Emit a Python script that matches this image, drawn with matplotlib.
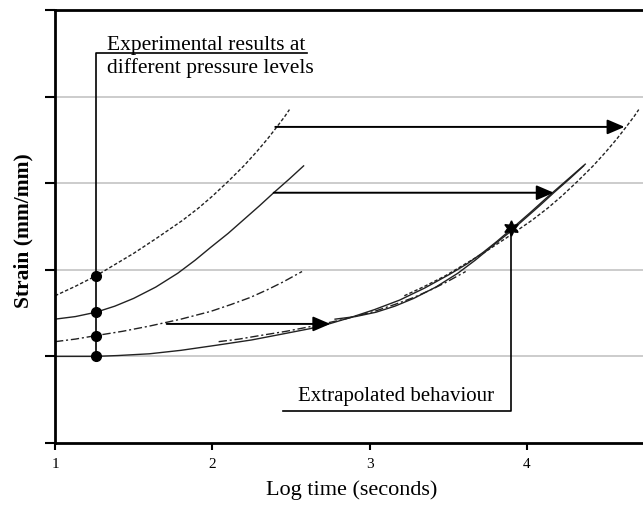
import matplotlib
matplotlib.use("Agg")
import matplotlib.pyplot as plt

plt.rcParams['font.family'] = ['Liberation Serif', 'DejaVu Serif']

# base creep curve (lowest pressure) -- becomes the master curve
base_x = [1.00, 1.13, 1.26, 1.40, 1.60, 1.80, 2.03, 2.25, 2.45, 2.62, 2.75, 2.88,
          3.03, 3.19, 3.35, 3.51, 3.62, 3.72, 3.81, 3.90, 4.02, 4.13, 4.25, 4.37]
base_y = [1.00, 1.00, 1.00, 1.01, 1.03, 1.07, 1.13, 1.19, 1.26, 1.32, 1.38, 1.45,
          1.54, 1.65, 1.79, 1.95, 2.07, 2.20, 2.33, 2.47, 2.66, 2.84, 3.03, 3.22]

# experimental curves at higher pressure levels
low_x = [1.00, 1.13, 1.26, 1.43, 1.60, 1.80, 1.99, 2.12, 2.24, 2.35, 2.45, 2.57]
low_y = [1.17, 1.20, 1.24, 1.29, 1.35, 1.43, 1.52, 1.60, 1.68, 1.77, 1.86, 1.98]

mid_x = [1.00, 1.13, 1.26, 1.38, 1.50, 1.64, 1.78, 1.89, 1.99, 2.10, 2.20, 2.30,
         2.39, 2.49, 2.58]
mid_y = [1.43, 1.46, 1.51, 1.58, 1.67, 1.80, 1.96, 2.11, 2.26, 2.42, 2.58, 2.74,
         2.89, 3.05, 3.20]

top_x = [1.00, 1.13, 1.26, 1.38, 1.50, 1.65, 1.81, 1.91, 2.00, 2.10, 2.20, 2.28,
         2.35, 2.41, 2.46, 2.49]
top_y = [1.70, 1.81, 1.93, 2.06, 2.19, 2.37, 2.57, 2.71, 2.85, 3.02, 3.20, 3.36,
         3.51, 3.65, 3.77, 3.85]

# horizontal shift (log time) of each curve onto the master curve
shifts = [1.04, 1.78, 2.22]
arrow_x = [1.71, 2.39, 2.40]
arrow_y = [1.375, 2.89, 3.65]

dot_x = 1.26
star_x, star_y = 3.90, 2.48

xticks = [1, 2, 3, 4]
yticks = [0, 1, 2, 3, 4, 5]

fig = plt.figure(figsize=(6.43, 5.09), dpi=100)
ax = fig.add_axes([55/643, 66/509, 588/643, 433/509])

ax.set_xlim(1, 4.737)
ax.set_ylim(0, 5)

for g in yticks[1:-1]:
    ax.axhline(g, color='#c4c4c4', lw=1.2, zorder=0)

dash_top = (0, (2.5, 1.5))
dash_low = (0, (6, 2, 1.5, 2))
ink = '#222222'

# original curves
ax.plot(base_x, base_y, '-', color=ink, lw=1.0)
ax.plot(low_x, low_y, linestyle=dash_low, color=ink, lw=1.0)
ax.plot(mid_x, mid_y, '-', color=ink, lw=1.0)
ax.plot(top_x, top_y, linestyle=dash_top, color=ink, lw=1.0)

# shifted copies lying on the master curve
ax.plot([x + shifts[0] for x in low_x], low_y, linestyle=dash_low, color=ink, lw=1.0)
ax.plot([x + shifts[1] for x in mid_x], mid_y, '-', color=ink, lw=1.0)
ax.plot([x + shifts[2] for x in top_x], top_y, linestyle=dash_top, color=ink, lw=1.0)

# arrows
for sx, sy, sh in zip(arrow_x, arrow_y, shifts):
    ax.annotate('', xy=(sx + sh, sy), xytext=(sx, sy),
                arrowprops=dict(arrowstyle='-|>,head_length=0.7,head_width=0.3',
                                mutation_scale=15, lw=1.4, color='black',
                                shrinkA=0, shrinkB=0))

# markers at first test time
dot_ys = [base_y[2], low_y[2], mid_y[2], top_y[2]]
ax.plot([dot_x] * 4, dot_ys, 'o', color='black', markersize=7, zorder=5)
ax.plot([star_x], [star_y], marker=(6, 1, 0), color='black', markersize=11, zorder=5)

# callout: experimental results
ax.plot([dot_x, dot_x, 2.60], [base_y[2], 4.50, 4.50], color='black', lw=1.2)
ax.text(1.33, 4.54, 'Experimental results at', fontsize=15.5, ha='left', va='baseline')
ax.text(1.33, 4.27, 'different pressure levels', fontsize=15.5, ha='left', va='baseline')

# callout: extrapolated behaviour
ax.plot([star_x, star_x, 2.45], [star_y, 0.365, 0.365], color='black', lw=1.2)
ax.text(2.545, 0.49, 'Extrapolated behaviour', fontsize=15, ha='left', va='baseline')

ax.spines['right'].set_visible(False)
for s in ['left', 'bottom', 'top']:
    ax.spines[s].set_linewidth(2)

ax.set_xticks(xticks)
ax.set_yticks(yticks)
ax.tick_params(axis='y', direction='out', length=7, width=1.5, labelleft=False)
ax.tick_params(axis='x', direction='out', length=5, width=1.5, labelsize=11, pad=6)

ax.set_xlabel('Log time (seconds)', fontsize=16)
ax.xaxis.set_label_coords(0.505, -0.108)
ax.xaxis.label.set_va('center')
ax.set_ylabel('Strain (mm/mm)', fontsize=15.5, fontweight='bold')
ax.yaxis.set_label_coords(-0.053, 0.49)
ax.yaxis.label.set_va('center')

fig.savefig('out.png', dpi=100)
